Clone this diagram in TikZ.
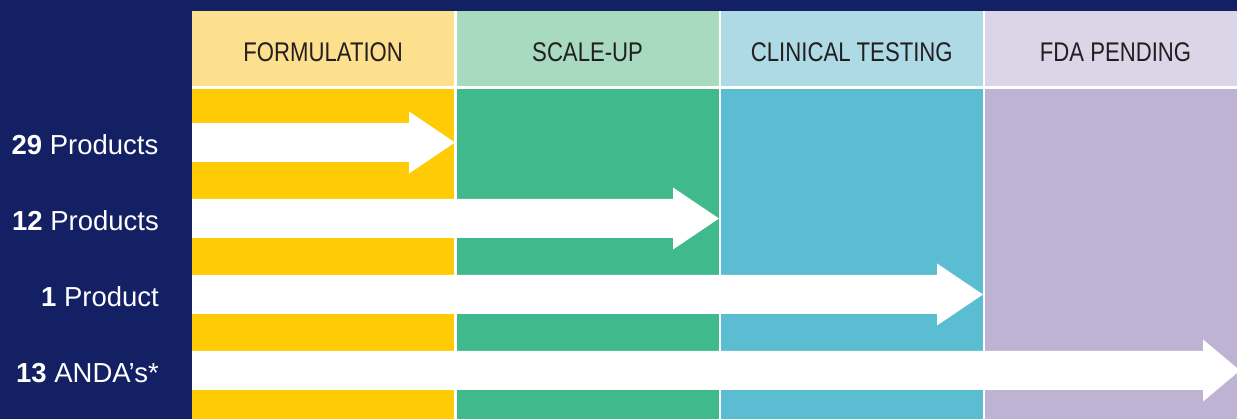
\documentclass[tikz,border=0pt]{standalone}
\usepackage{fontspec}
\setmainfont{Liberation Sans}
\newfontfamily\headfont[FakeStretch=0.82]{Liberation Sans}

\definecolor{navy}{RGB}{19,32,100}
\definecolor{headgray}{RGB}{35,31,32}
\definecolor{formhead}{RGB}{253,224,142}
\definecolor{formbody}{RGB}{255,203,5}
\definecolor{scalehead}{RGB}{168,218,192}
\definecolor{scalebody}{RGB}{64,186,140}
\definecolor{clinhead}{RGB}{174,218,229}
\definecolor{clinbody}{RGB}{90,189,209}
\definecolor{fdahead}{RGB}{220,212,231}
\definecolor{fdabody}{RGB}{191,179,212}

\tikzset{
  stagehead/.style={anchor=base, inner sep=0pt, text=headgray,
    font=\headfont\fontsize{27}{27}\selectfont},
  countlabel/.style={anchor=base east, inner sep=0pt, text=white,
    font=\fontsize{27.5}{27.5}\selectfont},
}

% arrow: centre y, head base x, tip x
\newcommand{\stagearrow}[3]{%
  \fill [white] (192,#1-19.5) -- (#2,#1-19.5) -- (#2,#1-31) -- (#3,#1)
    -- (#2,#1+31) -- (#2,#1+19.5) -- (192,#1+19.5) -- cycle;}

\begin{document}
\begin{tikzpicture}[x=1pt,y=-1pt]
  % Background
  \fill [navy] (0,0) rectangle (1237,419);
  \useasboundingbox (0,0) rectangle (1237,419);
  \begin{scope}
  \clip (0,0) rectangle (1237,419);
  \fill [white] (192,11) rectangle (1237,419);%

  % Stage FORMULATION
  \fill [formhead] (192,11) rectangle (454.3,86.3);%
  \fill [formbody] (192,88.8) rectangle (454.3,419);%
  \node [stagehead] (formulation) at (323.2,62) {FORMULATION};%

  % Stage SCALE-UP
  \fill [scalehead] (456.8,11) rectangle (718.5,86.3);%
  \fill [scalebody] (456.8,88.8) rectangle (718.5,419);%
  \node [stagehead] (scaleup) at (587.6,62) {SCALE-UP};%

  % Stage CLINICAL TESTING
  \fill [clinhead] (721,11) rectangle (982.6,86.3);%
  \fill [clinbody] (721,88.8) rectangle (982.6,419);%
  \node [stagehead] (clinical) at (851.8,62) {CLINICAL TESTING};%

  % Stage FDA PENDING
  \fill [fdahead] (985.1,11) rectangle (1237,86.3);%
  \fill [fdabody] (985.1,88.8) rectangle (1237,419);%
  \node [stagehead] (fda) at (1115.5,62) {FDA PENDING};%

  % Arrows
  \stagearrow{142.5}{409}{455}%
  \stagearrow{218.5}{673}{719}%
  \stagearrow{294.5}{937}{983}%
  \stagearrow{370.5}{1203}{1240}%
  \end{scope}

  % Row labels
  \node [countlabel] (products29) at (158.5,154.5) {\textbf{29} Products};%
  \node [countlabel] (products12) at (159,231) {\textbf{12} Products};%
  \node [countlabel] (product1) at (159,307) {\textbf{1} Product};%
  \node [countlabel] (andas13) at (159,383) {\textbf{13} ANDA’s*};%
\end{tikzpicture}
\end{document}
